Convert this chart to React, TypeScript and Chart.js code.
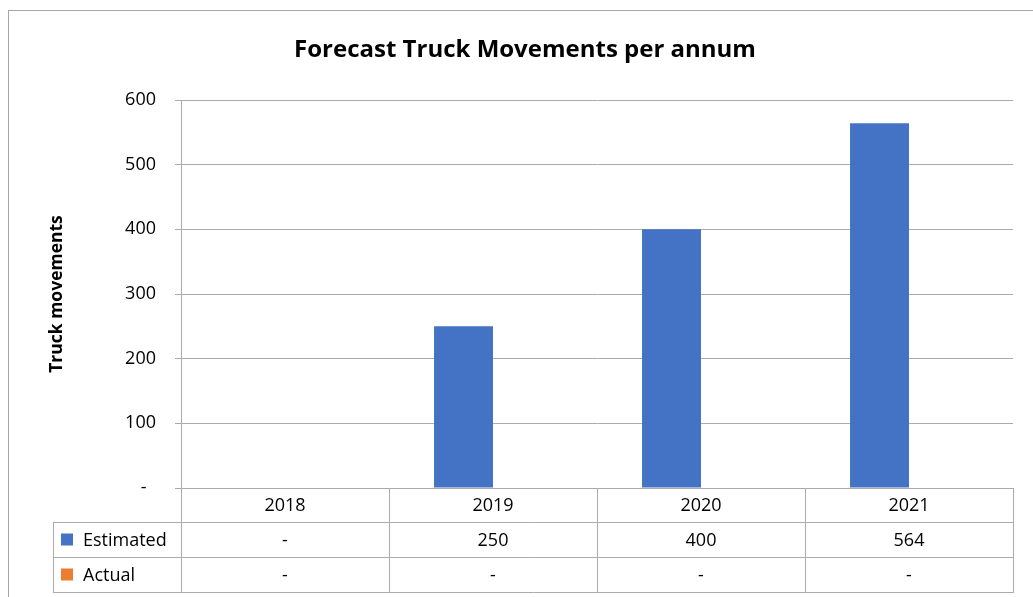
import React, { useEffect, useRef } from "react";
import { Chart, registerables } from "chart.js";

Chart.register(...registerables);

const categories = ["2018", "2019", "2020", "2021"];
const estimatedValues = [0, 250, 400, 564];
const actualValues = [0, 0, 0, 0];
const seriesNames = ["Estimated", "Actual"];
const yTicks = [0, 100, 200, 300, 400, 500, 600];
const titleText = "Forecast Truck Movements per annum";
const yAxisTitle = "Truck movements";

const BLUE = "#4472C4";
const ORANGE = "#ED7D31";
const GRID = "#ababab";
const FONT = "'Open Sans', sans-serif";

const fmt = (v: number) => (v === 0 ? "-" : String(v));

const decorPlugin = {
  id: "decor",
  afterDraw(chart: any) {
    const ctx = chart.ctx;
    const area = chart.chartArea;
    ctx.save();
    // outer frame
    ctx.strokeStyle = "#a6a6a6";
    ctx.lineWidth = 1;
    ctx.strokeRect(8.5, 10.5, 1200, 800);

    // title
    ctx.fillStyle = "#000";
    ctx.font = `bold 24px ${FONT}`;
    ctx.textAlign = "center";
    ctx.textBaseline = "middle";
    ctx.fillText(titleText, 525, 50);

    // y axis title
    ctx.save();
    ctx.translate(57, (area.top + area.bottom) / 2);
    ctx.rotate(-Math.PI / 2);
    ctx.font = `bold 17.5px ${FONT}`;
    ctx.fillText(yAxisTitle, 0, 0);
    ctx.restore();

    // data table
    const top = area.bottom;
    const rowH = 35;
    const r1 = top + 34;
    const r2 = r1 + rowH;
    const r3 = r2 + rowH;
    const leftX = 53;
    const n = categories.length;
    const catW = (area.right - area.left) / n;
    ctx.strokeStyle = GRID;
    ctx.lineWidth = 1;
    ctx.beginPath();
    for (let i = 0; i <= n; i++) {
      const px = Math.round(area.left + i * catW) + 0.5;
      ctx.moveTo(px, top);
      ctx.lineTo(px, r3);
    }
    [r1, r2, r3].forEach((yy) => {
      ctx.moveTo(leftX, Math.round(yy) + 0.5);
      ctx.lineTo(area.right + 1, Math.round(yy) + 0.5);
    });
    ctx.moveTo(leftX + 0.5, r1);
    ctx.lineTo(leftX + 0.5, r3);
    ctx.stroke();

    ctx.font = `18px ${FONT}`;
    ctx.fillStyle = "#000";
    ctx.textAlign = "center";
    const rows = [estimatedValues, actualValues];
    for (let i = 0; i < n; i++) {
      const cx = area.left + (i + 0.5) * catW;
      ctx.fillText(categories[i], cx, (top + r1) / 2 + 1);
      ctx.fillText(fmt(rows[0][i]), cx, (r1 + r2) / 2 + 1);
      ctx.fillText(fmt(rows[1][i]), cx, (r2 + r3) / 2 + 1);
    }
    // legend keys
    const colors = [BLUE, ORANGE];
    const ys = [(r1 + r2) / 2, (r2 + r3) / 2];
    ctx.textAlign = "left";
    for (let k = 0; k < 2; k++) {
      ctx.fillStyle = colors[k];
      ctx.fillRect(61, ys[k] - 6, 12, 12);
      ctx.fillStyle = "#000";
      ctx.fillText(seriesNames[k], 83, ys[k] + 1);
    }
    ctx.restore();
  },
};

export default function App() {
  const ref = useRef<HTMLCanvasElement>(null);
  useEffect(() => {
    if (!ref.current) return;
    const chart = new Chart(ref.current, {
      type: "bar",
      data: {
        labels: categories,
        datasets: [
          { label: seriesNames[0], data: estimatedValues, backgroundColor: BLUE, categoryPercentage: 0.567, barPercentage: 1 },
          { label: seriesNames[1], data: actualValues, backgroundColor: ORANGE, categoryPercentage: 0.567, barPercentage: 1 },
        ],
      },
      options: {
        animation: false,
        responsive: false,
        devicePixelRatio: 1,
        layout: { padding: { left: 0, top: 100, right: 20, bottom: 0 } },
        plugins: { legend: { display: false }, title: { display: false }, tooltip: { enabled: false } },
        scales: {
          x: {
            ticks: { display: false },
            grid: { display: false },
            border: { display: false },
            afterFit: (s: any) => {
              s.height = 109;
            },
          },
          y: {
            min: 0,
            max: 600,
            afterBuildTicks: (s: any) => {
              s.ticks = yTicks.map((v) => ({ value: v }));
            },
            ticks: {
              callback: (v: any) => (Number(v) === 0 ? "-  " : String(v)),
              font: { family: "'Open Sans', sans-serif", size: 18 },
              color: "#000",
              padding: 19,
            },
            grid: { color: GRID, tickLength: 6, lineWidth: 1 },
            border: { display: true, color: GRID },
            afterFit: (s: any) => {
              s.width = 181;
            },
          },
        },
      },
      plugins: [decorPlugin],
    });
    return () => chart.destroy();
  }, []);
  return (
    <div style={{ position: "absolute", left: 0, top: 0, width: 1033, height: 597 }}>
      <canvas ref={ref} width={1033} height={597} style={{ display: "block" }} />
    </div>
  );
}
